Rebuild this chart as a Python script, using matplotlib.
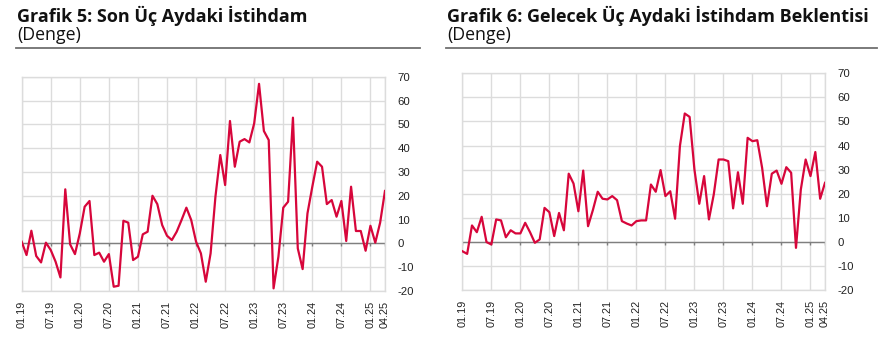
import matplotlib
matplotlib.use("Agg")
import matplotlib.pyplot as plt
from matplotlib.lines import Line2D
import numpy as np

# monthly balance series, 01.2019 - 04.2025
son_uc_ay = [0.7, -4.9, 5.3, -5.3, -8.0, 0.3, -2.8, -7.7, -14.3, 22.7,
             -0.4, -4.5, 4.2, 15.4, 17.8, -4.9, -3.9, -7.7, -4.5, -18.2,
             -17.8, 9.5, 8.7, -7.0, -5.6, 3.8, 4.9, 20.0, 16.5, 7.7,
             3.2, 1.4, 4.9, 9.8, 15.0, 9.8, 0.7, -4.2, -16.1, -4.2,
             19.6, 37.1, 24.5, 51.4, 32.2, 42.7, 43.8, 42.4, 50.4, 67.0,
             47.2, 43.4, -18.9, -5.6, 15.0, 17.5, 52.8, -2.1, -10.8, 12.6,
             23.8, 34.3, 32.2, 16.5, 18.2, 11.2, 17.8, 1.0, 23.8, 5.2,
             5.2, -3.1, 7.4, 0.3, 8.7, 22.0]

gelecek_uc_ay = [-3.9, -5.0, 6.8, 4.0, 10.4, -0.1, -1.1, 9.3, 8.9, 1.9,
                 4.8, 3.5, 3.5, 7.9, 4.0, -0.4, 1.0, 14.1, 12.3, 2.4,
                 12.0, 4.8, 28.3, 24.2, 12.7, 29.6, 6.5, 13.2, 20.8, 17.9,
                 17.6, 19.0, 17.3, 8.6, 7.6, 6.8, 8.6, 8.9, 8.9, 23.8,
                 20.8, 29.8, 19.0, 21.0, 9.6, 39.8, 53.3, 51.9, 30.0, 15.8,
                 27.3, 9.3, 19.7, 34.2, 34.2, 33.5, 13.9, 28.9, 15.8, 43.2,
                 41.8, 42.2, 30.7, 14.8, 28.3, 29.6, 24.1, 31.0, 28.7, -2.5,
                 21.7, 34.2, 27.3, 37.3, 17.9, 24.5]

tick_pos = [0, 6, 12, 18, 24, 30, 36, 42, 48, 54, 60, 66, 72, 75]
tick_labels = ["01.19", "07.19", "01.20", "07.20", "01.21", "07.21", "01.22",
               "07.22", "01.23", "07.23", "01.24", "07.24", "01.25", "04.25"]
y_ticks = list(range(-20, 71, 10))

titles = ["Grafik 5: Son Üç Aydaki İstihdam",
          "Grafik 6: Gelecek Üç Aydaki İstihdam Beklentisi"]

RED = "#d7063b"
GRID = "#dcdcdc"

fig = plt.figure(figsize=(8.85, 3.48), dpi=100)


def draw_panel(rect, values):
    ax = fig.add_axes(rect)
    x = np.arange(len(values))
    ax.set_xlim(0, len(values) - 1)
    ax.set_ylim(-20, 70)
    ax.set_xticks(tick_pos)
    ax.set_xticklabels(tick_labels, rotation=90, fontsize=7.8,
                       family="Liberation Sans", color="#222222")
    ax.set_yticks(y_ticks)
    ax.set_yticklabels([str(v) for v in y_ticks], fontsize=8.2,
                       family="Liberation Sans", color="#222222")
    ax.yaxis.tick_right()
    ax.tick_params(axis="both", length=0)
    ax.tick_params(axis="y", pad=9)
    ax.tick_params(axis="x", pad=7)
    ax.grid(True, color=GRID, linewidth=1.0)
    ax.set_axisbelow(True)
    for s in ax.spines.values():
        s.set_color(GRID)
        s.set_linewidth(1.0)
    ax.axhline(0, color="#7f7f7f", linewidth=1.0, zorder=2)
    ax.vlines(tick_pos, -1.3, 0, color="#7f7f7f", linewidth=1.0, zorder=2)
    ax.plot(x, values, color=RED, linewidth=1.6, zorder=3)
    return ax


draw_panel([0.0245, 0.1638, 0.4105, 0.6158], son_uc_ay)
draw_panel([0.5224, 0.1667, 0.4098, 0.6227], gelecek_uc_ay)

# panel headers with rule underneath
for x0, x1, title in [(17, 420, titles[0]), (447, 877, titles[1])]:
    fig.text(x0 / 885, 1 - 15.5 / 348, title, fontsize=13, fontweight="bold",
             family="Open Sans", va="center", ha="left", color="#111111")
    fig.text(x0 / 885, 1 - 35 / 348, "(Denge)", fontsize=12.8,
             family="Open Sans", va="center", ha="left", color="#111111")
    fig.add_artist(Line2D([(x0 - 1) / 885, x1 / 885], [1 - 47.5 / 348, 1 - 47.5 / 348],
                          color="#6f6f6f", linewidth=1.3))

fig.savefig("out.png", dpi=100)
